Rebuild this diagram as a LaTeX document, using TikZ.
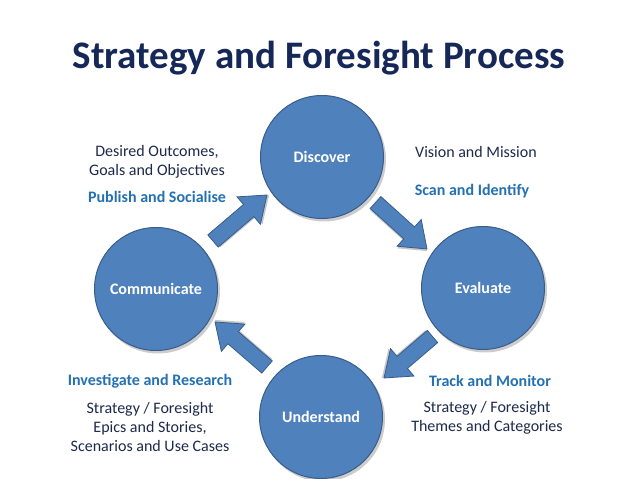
\documentclass[tikz,border=0pt]{standalone}
\usepackage{fontspec}
\setmainfont{Carlito}
\usetikzlibrary{calc}
\definecolor{cfill}{RGB}{79,129,189}
\definecolor{cline}{RGB}{56,93,138}
\definecolor{titlec}{RGB}{22,40,88}
\definecolor{bodyc}{RGB}{30,42,75}
\definecolor{accent}{RGB}{36,113,178}
\tikzset{
  pics/barrow/.style={code={
    \fill[black,opacity=0.22] (1.5,-9.5)--(#1-22.5,-9.5)--(#1-22.5,-19.5)--(#1+1.5,-1.5)--(#1-22.5,16.5)--(#1-22.5,6.5)--(1.5,6.5)--cycle;
    \draw[fill=cfill,draw=cline,line width=0.8pt,line join=miter] (0,-8)--(#1-24,-8)--(#1-24,-18)--(#1,0)--(#1-24,18)--(#1-24,8)--(0,8)--cycle;
  }}
}
\begin{document}
\begin{tikzpicture}[x=1pt,y=1pt,
  proc/.style={circle, fill=cfill, draw=cline, line width=1pt, minimum size=123pt, inner sep=0pt, text=white, font=\bfseries\fontsize{16}{19}\selectfont},
  note/.style={text=bodyc, font=\fontsize{16}{19}\selectfont, align=center},
  act/.style={text=accent, font=\bfseries\fontsize{16}{19}\selectfont},
  shade/.style={fill=black,opacity=0.2}]
\useasboundingbox (0,0) rectangle (638,479);
\fill[white] (0,0) rectangle (638,479);

\node[text=titlec, font=\bfseries\fontsize{39}{44}\selectfont] (title) at (319,421) {Strategy and Foresight Process};

% circles (shadows first)
\foreach \p in {(322,322),(483,191),(321,62),(156,190)}
  \fill[shade] \p ++(2,-2.5) circle (62);
\node[proc] (disc) at (322,322) {Discover};
\node[proc] (eval) at (483,191) {Evaluate};
\node[proc] (und)  at (321,62)  {Understand};
\node[proc] (comm) at (156,190) {Communicate};

% block arrows
\coordinate (at) at (213,238); \coordinate (ah) at (267,284);
\coordinate (bt) at (375.5,276.5); \coordinate (bh) at (427,230);
\coordinate (ct) at (432.5,142.5); \coordinate (ch) at (384,101);
\coordinate (dt) at (267,112); \coordinate (dh) at (215,157);
\foreach \t/\h in {at/ah,bt/bh,ct/ch,dt/dh}
  \path let \p1=($(\h)-(\t)$), \n1={veclen(\x1,\y1)}, \n2={atan2(\y1,\x1)} in
    pic[rotate=\n2] at (\t) {barrow=\n1};

% texts
\node[note] (n1) at (157,317) {Desired Outcomes,\\Goals and Objectives};
\node[act]  (n2) at (157,282) {Publish and Socialise};
\node[note] (n3) at (476,327) {Vision and Mission};
\node[act]  (n4) at (472,288) {Scan and Identify};
\node[act]  (n5) at (150,98)  {Investigate and Research};
\node[note] (n6) at (150,52)  {Strategy / Foresight\\Epics and Stories,\\Scenarios and Use Cases};
\node[act]  (n7) at (490,98)  {Track and Monitor};
\node[note] (n8) at (487,61)  {Strategy / Foresight\\Themes and Categories};
\end{tikzpicture}
\end{document}
